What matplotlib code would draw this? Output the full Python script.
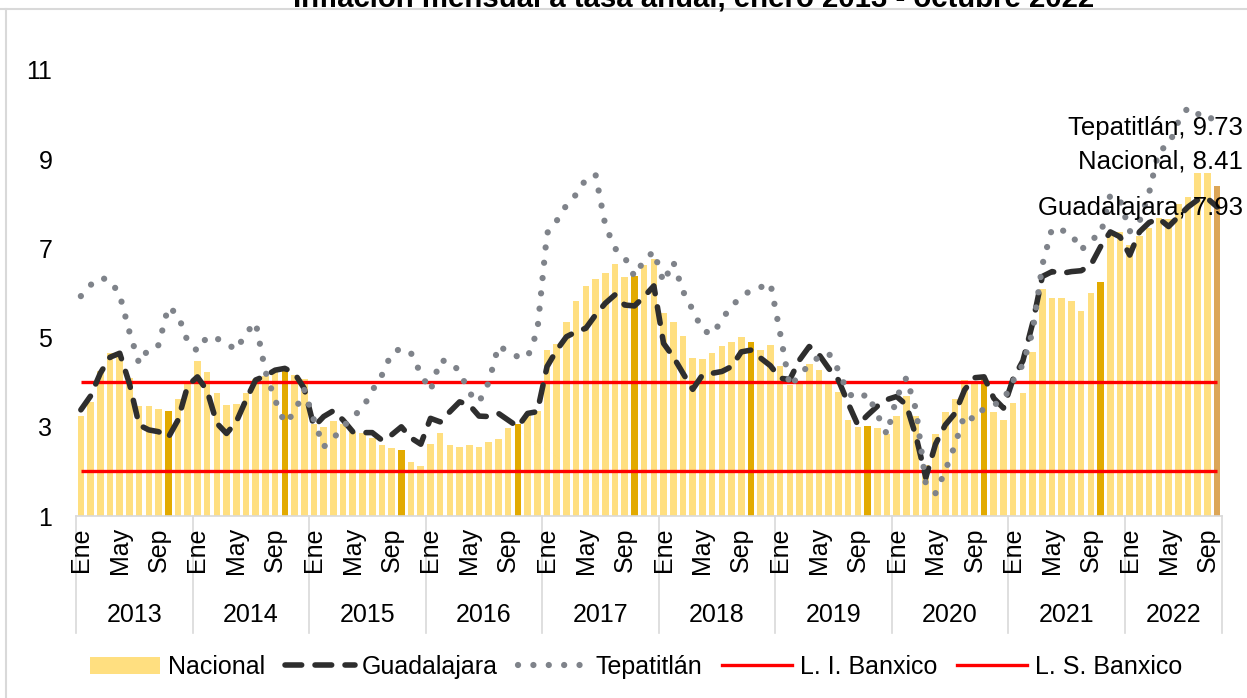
import numpy as np
import matplotlib
matplotlib.use("Agg")
import matplotlib.pyplot as plt
from matplotlib.lines import Line2D
from matplotlib.patches import Patch
import matplotlib.transforms as mtransforms

plt.rcParams['font.family'] = ['Liberation Sans', 'DejaVu Sans']

# ---------------- data ----------------
years = ['2013', '2014', '2015', '2016', '2017', '2018', '2019', '2020', '2021', '2022']
month_names = ['Ene', 'Feb', 'Mar', 'Abr', 'May', 'Jun', 'Jul', 'Ago', 'Sep', 'Oct', 'Nov', 'Dic']
shown_months = ['Ene', 'May', 'Sep']

nacional = [
    3.25, 3.55, 4.25, 4.65, 4.63, 4.09, 3.47, 3.46, 3.39, 3.36, 3.62, 3.97,
    4.48, 4.23, 3.76, 3.50, 3.51, 3.75, 4.07, 4.15, 4.22, 4.30, 4.17, 4.08,
    3.07, 3.00, 3.14, 3.06, 2.88, 2.87, 2.74, 2.59, 2.52, 2.48, 2.21, 2.13,
    2.61, 2.87, 2.60, 2.54, 2.60, 2.54, 2.65, 2.73, 2.97, 3.06, 3.31, 3.36,
    4.72, 4.86, 5.35, 5.82, 6.16, 6.31, 6.44, 6.66, 6.35, 6.37, 6.63, 6.77,
    5.55, 5.34, 5.04, 4.55, 4.51, 4.65, 4.81, 4.90, 5.02, 4.90, 4.72, 4.83,
    4.37, 3.94, 4.00, 4.41, 4.28, 3.95, 3.78, 3.16, 3.00, 3.02, 2.97, 2.83,
    3.24, 3.70, 3.25, 2.15, 2.84, 3.33, 3.62, 4.05, 4.01, 4.09, 3.33, 3.15,
    3.54, 3.76, 4.67, 6.08, 5.89, 5.88, 5.81, 5.59, 6.00, 6.24, 7.37, 7.36,
    7.07, 7.28, 7.45, 7.68, 7.65, 7.99, 8.15, 8.70, 8.70, 8.41,
]

guadalajara = [
    3.38, 3.69, 4.20, 4.56, 4.65, 3.97, 3.04, 2.93, 2.89, 2.76, 3.15, 3.92,
    4.12, 3.81, 3.08, 2.85, 3.11, 3.60, 4.05, 4.14, 4.27, 4.31, 4.20, 3.86,
    3.00, 3.23, 3.36, 3.15, 2.89, 2.87, 2.87, 2.70, 2.82, 3.00, 2.75, 2.61,
    3.19, 3.11, 3.34, 3.56, 3.49, 3.24, 3.23, 3.30, 3.15, 3.00, 3.30, 3.34,
    4.35, 4.72, 5.02, 5.13, 5.21, 5.51, 5.77, 5.96, 5.73, 5.71, 5.92, 6.16,
    4.87, 4.57, 4.20, 3.84, 4.16, 4.20, 4.24, 4.35, 4.68, 4.72, 4.54, 4.37,
    4.09, 4.06, 4.50, 4.80, 4.62, 4.31, 4.05, 3.53, 3.04, 3.26, 3.46, 3.61,
    3.68, 3.49, 2.78, 1.86, 2.61, 3.04, 3.30, 3.83, 4.10, 4.12, 3.64, 3.42,
    4.08, 4.48, 5.32, 6.37, 6.48, 6.44, 6.48, 6.50, 6.63, 7.04, 7.37, 7.26,
    6.85, 7.37, 7.58, 7.67, 7.49, 7.71, 7.93, 8.09, 8.12, 7.93,
]

tepatitlan = [
    5.93, 6.18, 6.34, 6.29, 5.96, 5.13, 4.42, 4.76, 4.83, 5.69, 5.51, 4.91,
    4.70, 5.02, 4.98, 4.87, 4.72, 5.10, 5.34, 4.24, 3.60, 3.08, 3.32, 3.83,
    3.15, 2.55, 2.74, 3.00, 3.23, 3.41, 3.81, 4.16, 4.65, 4.76, 4.65, 4.19,
    3.81, 4.49, 4.46, 4.24, 3.76, 3.55, 4.00, 4.82, 4.68, 4.57, 4.56, 5.15,
    7.34, 7.62, 7.97, 8.21, 8.55, 8.65, 7.52, 7.00, 6.80, 6.37, 6.74, 6.93,
    6.24, 6.70, 6.04, 5.62, 5.17, 5.07, 5.39, 5.73, 5.88, 6.08, 6.13, 6.22,
    5.10, 3.90, 4.16, 4.39, 4.57, 4.65, 4.27, 3.75, 3.62, 3.74, 3.28, 2.83,
    3.66, 4.10, 3.38, 1.72, 1.51, 2.01, 2.59, 3.28, 3.16, 3.42, 3.49, 3.60,
    4.03, 4.40, 5.13, 6.63, 7.45, 7.41, 7.32, 6.96, 7.20, 7.30, 8.20, 8.08,
    7.38, 7.60, 8.25, 9.20, 9.30, 9.84, 10.16, 10.01, 10.03, 9.73,
]

li_banxico = 2.0
ls_banxico = 4.0
yticks = [1, 3, 5, 7, 9, 11]

title = "Inflación mensual a tasa anual, enero 2013 - octubre 2022"

# ---------------- figure ----------------
W, H = 1247, 698
fig = plt.figure(figsize=(W / 100, H / 100), dpi=100)

def fx(px):
    return px / W

def fy(py):
    return 1 - py / H

ax_left, ax_right, ax_top, ax_bot = 76, 1222, 70, 516
ax = fig.add_axes([fx(ax_left), fy(ax_bot), fx(ax_right - ax_left), (ax_bot - ax_top) / H])

n = len(nacional)
x = np.arange(n)
month_idx = [i % 12 for i in range(n)]

light = '#FFDF80'
dark = '#E2AA00'
last_col = '#DCA657'
colors = []
for i in range(n):
    if i == n - 1:
        colors.append(last_col)
    elif month_names[month_idx[i]] == 'Oct':
        colors.append(dark)
    else:
        colors.append(light)

gdl_color = '#2E2E2E'
gdl_style = (0, (3.0, 2.4))
tep_color = '#7F838A'
tep_style = (0, (0.01, 2.45))

ax.bar(x, nacional, width=0.68, color=colors, bottom=0, zorder=1)
ax.plot(x, np.full(n, li_banxico), color='#FF0000', lw=2.4, zorder=2, solid_capstyle='butt')
ax.plot(x, np.full(n, ls_banxico), color='#FF0000', lw=2.4, zorder=2, solid_capstyle='butt')
ax.plot(x, guadalajara, color=gdl_color, lw=4.0, linestyle=gdl_style,
        dash_capstyle='round', dash_joinstyle='round', zorder=3)
ax.plot(x, tepatitlan, color=tep_color, lw=4.5, linestyle=tep_style,
        dash_capstyle='round', zorder=4)

ax.set_xlim(-0.5, n - 0.5)
ax.set_ylim(1, 11)
ax.set_yticks(yticks)
ax.set_yticklabels([str(t) for t in yticks], fontsize=18)
ax.tick_params(axis='y', length=0, pad=17)
ax.set_xticks([])
for s in ['left', 'right', 'top']:
    ax.spines[s].set_visible(False)
ax.spines['bottom'].set_color('#D9D9D9')
ax.spines['bottom'].set_linewidth(1.2)
ax.patch.set_alpha(0)

# multi-level category axis
tr = mtransforms.blended_transform_factory(ax.transData, fig.transFigure)
for i in range(n):
    m = month_names[month_idx[i]]
    if m in shown_months:
        ax.text(i, fy(527), m, rotation=90, ha='center', va='top', fontsize=18,
                transform=tr, clip_on=False)
bounds = [-0.5] + [12 * k - 0.5 for k in range(1, len(years))] + [n - 0.5]
for b in bounds:
    ax.add_line(Line2D([b, b], [fy(516), fy(633)], transform=tr, color='#D9D9D9',
                       lw=1.2, clip_on=False))
for k, yr in enumerate(years):
    c = (bounds[k] + bounds[k + 1]) / 2
    ax.text(c, fy(615), yr, ha='center', va='center', fontsize=18, transform=tr,
            clip_on=False)

# end-point labels
fig.text(fx(1243), fy(128), f"Tepatitlán, {tepatitlan[-1]:.2f}", ha='right', va='center', fontsize=18.5)
fig.text(fx(1243), fy(162), f"Nacional, {nacional[-1]:.2f}", ha='right', va='center', fontsize=18.5)
fig.text(fx(1243), fy(208), f"Guadalajara, {guadalajara[-1]:.2f}", ha='right', va='center', fontsize=18.5)

# title (cropped at top as in source)
fig.text(fx(694), fy(6.5), title, ha='center', va='baseline', fontsize=21.2, fontweight='bold')

# chart border (light gray)
fig.add_artist(Line2D([0, 1], [fy(8.5), fy(8.5)], transform=fig.transFigure, color='#D9D9D9', lw=1.5))
fig.add_artist(Line2D([fx(6), fx(6)], [fy(8.5), 0], transform=fig.transFigure, color='#D9D9D9', lw=1.5))

# legend
handles = [
    Patch(facecolor=light, edgecolor='none'),
    Line2D([], [], color=gdl_color, lw=4.0, linestyle=gdl_style, dash_capstyle='round'),
    Line2D([], [], color=tep_color, lw=4.5, linestyle=tep_style, dash_capstyle='round'),
    Line2D([], [], color='#FF0000', lw=2.4),
    Line2D([], [], color='#FF0000', lw=2.4),
]
labels = ['Nacional', 'Guadalajara', 'Tepatitlán', 'L. I. Banxico', 'L. S. Banxico']
fig.legend(handles, labels, loc='center', bbox_to_anchor=(fx(636), fy(667)), ncol=5,
           frameon=False, fontsize=18, handlelength=2.8, handleheight=0.7,
           handletextpad=0.3, columnspacing=0.8, borderaxespad=0)

fig.savefig('out.png', dpi=100)
